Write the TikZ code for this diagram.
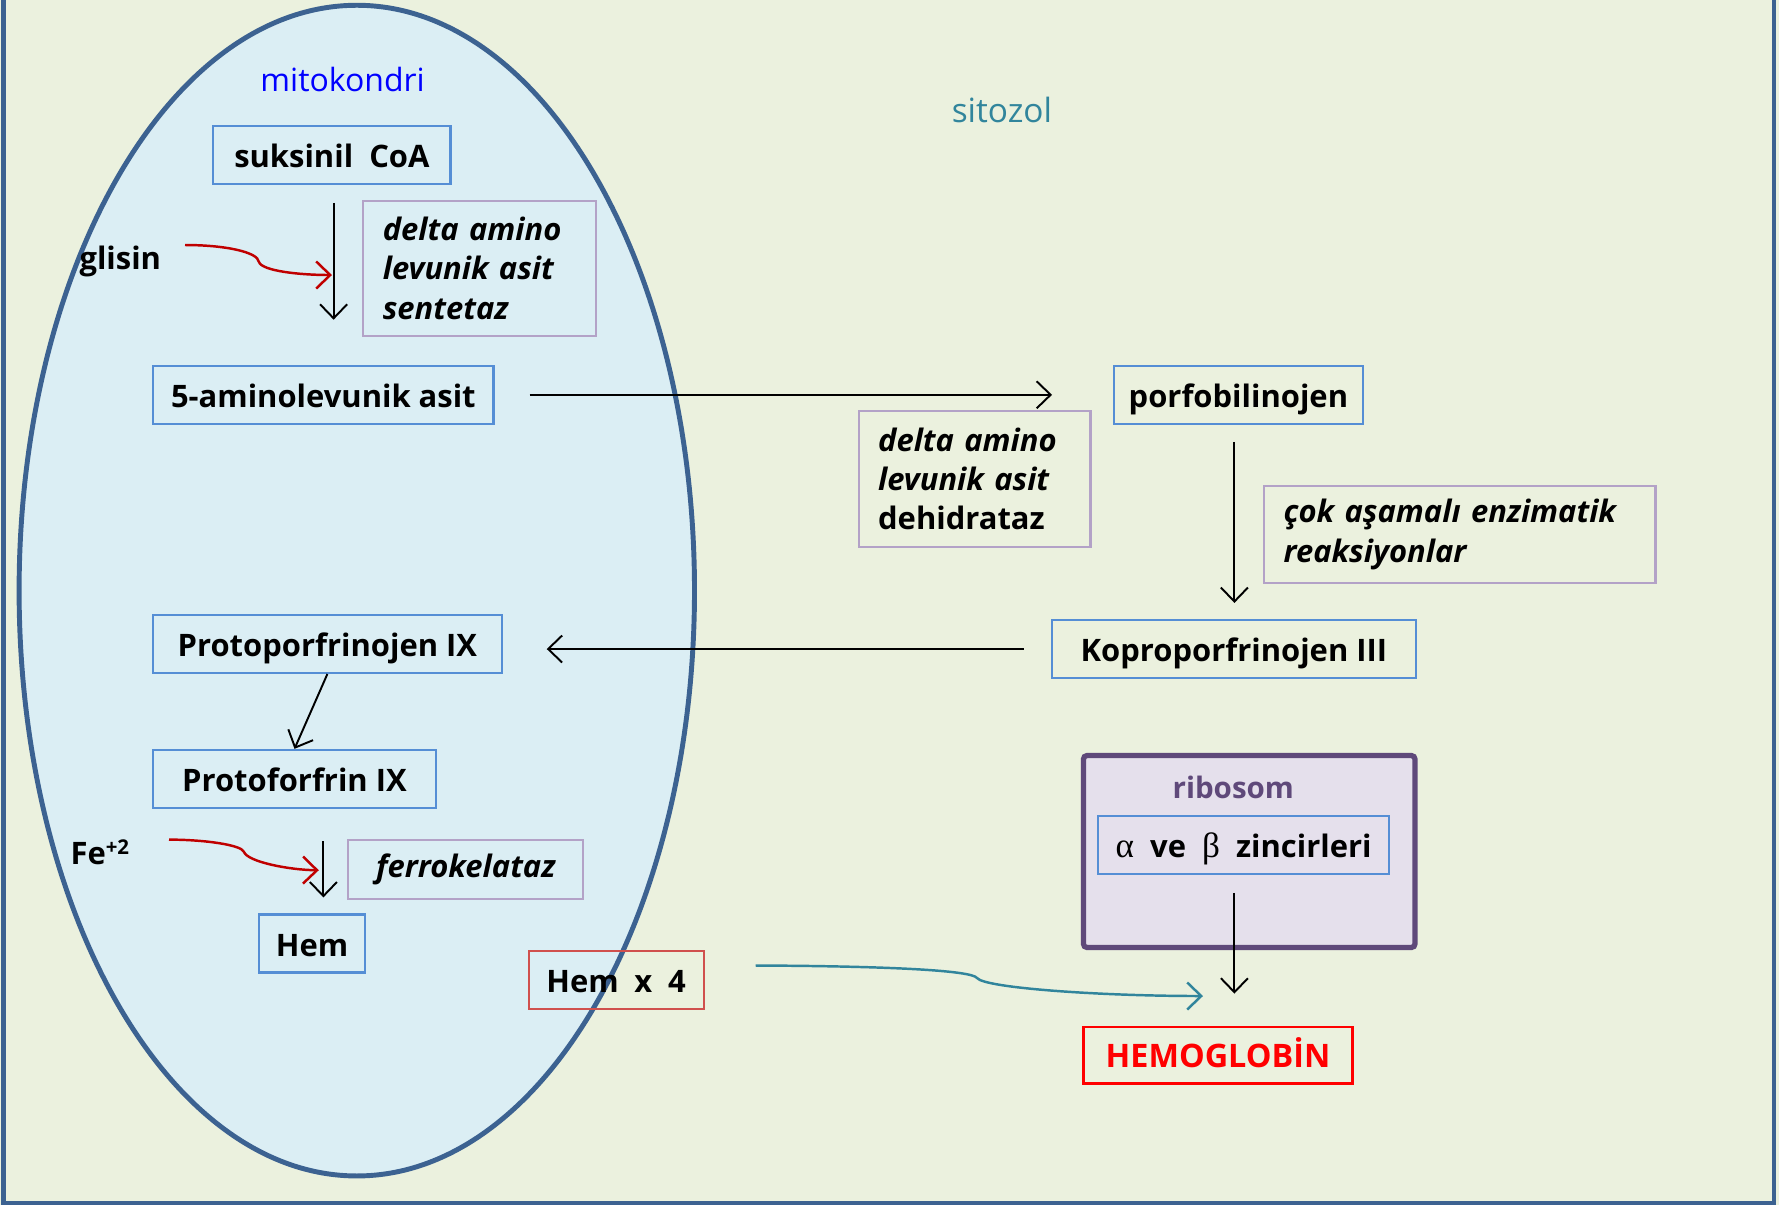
\documentclass[tikz,border=0pt]{standalone}
\usepackage{fontspec}
\setmainfont{Open Sans}
\newfontfamily\greekfont{Liberation Serif}
\usetikzlibrary{arrows.meta,shapes.geometric}
\definecolor{bgcol}{HTML}{EBF1DE}
\definecolor{mitofill}{HTML}{DBEEF4}
\definecolor{mitoline}{HTML}{3C6291}
\definecolor{boxblue}{HTML}{558ED5}
\definecolor{enzline}{HTML}{B3A2C7}
\definecolor{darkred}{HTML}{C00000}
\definecolor{tealc}{HTML}{31859C}
\definecolor{ribofill}{HTML}{E5E0EC}
\definecolor{riboline}{HTML}{5F497A}
\definecolor{hemred}{HTML}{D0504D}
\begin{document}
\begin{tikzpicture}[x=0.01cm,y=-0.01cm,
  every node/.style={font=\fontsize{8.8}{11}\selectfont\bfseries, inner sep=0pt},
  chem/.style={draw=boxblue, line width=0.6pt, minimum height=0.58cm, text height=0.72em, text depth=0pt},
  enz/.style={draw=enzline, line width=0.6pt, align=left, font=\fontsize{8.8}{11.2}\selectfont\bfseries\itshape},
  arr/.style={-{Straight Barb[length=0.14cm,width=0.27cm]}, line width=0.55pt, black},
  redarr/.style={-{Straight Barb[length=0.14cm,width=0.27cm]}, line width=0.7pt, darkred},
  tealarr/.style={-{Straight Barb[length=0.14cm,width=0.27cm]}, line width=0.7pt, tealc}]
\useasboundingbox (0,0) rectangle (1779,1205);
% background and page frame
\fill[bgcol] (0,0) rectangle (1779,1205);
\draw[mitoline, line width=1.3pt] (3.5,-20) -- (3.5,1203) -- (1774,1203) -- (1774,-20);
% mitochondrion
\node[ellipse, draw=mitoline, fill=mitofill, line width=1.4pt,
      minimum width=6.75cm, minimum height=11.7cm] (mito) at (356.8,590.6) {};
\node[font=\fontsize{9.1}{11}\selectfont, text=blue] (mitolbl) at (342.6,79.4) {mitokondri};
\node[font=\fontsize{9.5}{11}\selectfont, text=tealc] (sitolbl) at (1001.9,110) {sitozol};

% pathway boxes
\node[chem, minimum width=2.37cm] (suk) at (331.9,154.9) {suksinil\ \ CoA};
\node[enz, minimum width=2.327cm, minimum height=1.35cm, text width=1.93cm] (als) at (479.4,268.3)
  {delta amino\\levunik asit\\sentetaz};
\node[chem, minimum width=3.40cm] (ala) at (323.4,394.8) {5-aminolevunik asit};
\node[chem, minimum width=2.484cm] (pbg) at (1238.4,394.8) {porfobilinojen};
\node[enz, minimum width=2.315cm, minimum height=1.362cm, text width=1.93cm, font=\fontsize{8.8}{11.2}\selectfont\bfseries] (dhd) at (974.7,478.8)
  {\textit{delta amino}\\\textit{levunik asit}\\dehidrataz};
\node[enz, minimum width=3.914cm, minimum height=0.976cm, text width=3.52cm] (cok) at (1459.7,534.4)
  {çok aşamalı enzimatik\\reaksiyonlar};
\node[chem, minimum width=3.642cm] (kopro) at (1233.9,649) {Koproporfrinojen III};
\node[chem, minimum width=3.483cm] (protogen) at (327.4,643.9) {Protoporfrinojen IX};
\node[chem, minimum width=2.825cm] (protofor) at (294.5,778.9) {Protoforfrin IX};
\node[enz, minimum width=2.349cm, minimum height=0.59cm, align=center] (ferro) at (465.8,869.1) {ferrokelataz};
\node[chem, minimum width=1.066cm] (hem) at (312,943.5) {Hem};
\node[chem, draw=hemred, minimum width=1.748cm] (hem4) at (616.1,979.8) {Hem\hspace{0.25em} x\hspace{0.25em} 4};

% ribosome
\node[draw=riboline, fill=ribofill, line width=1.5pt, rounded corners=1pt,
      minimum width=3.313cm, minimum height=1.918cm] (ribo) at (1249.2,851.5) {};
\node[text=riboline, font=\fontsize{8.4}{11}\selectfont\bfseries] (ribolbl) at (1233.3,787.4) {ribosom};
\node[chem, minimum width=2.905cm] (chains) at (1243.6,844.7)
  {{\greekfont\mdseries\fontsize{10}{11}\selectfont α}\ \ ve\ \ {\greekfont\mdseries\fontsize{10}{11}\selectfont β}\ \ zincirleri};
\node[draw=red, line width=0.7pt, minimum width=2.689cm, minimum height=0.567cm,
      text height=0.72em, text depth=0pt,
      text=red, font=\fontsize{9.2}{11}\selectfont\bfseries] (hb) at (1218,1055.2) {HEMOGLOBİN};

% side substrates
\node (glisin) at (120.3,261) {glisin};
\node (fe) at (99.8,852) {Fe\raisebox{0.6ex}{\fontsize{5.8}{6}\selectfont +2}};

% reactions
\draw[arr, shorten <=0.18cm, shorten >=0.45cm] ([xshift=0.017cm]suk.south) -- ([xshift=0.017cm]suk.south |- ala.north);
\coordinate (gs) at (185,245);
\coordinate (ge) at (332,275);
\draw[redarr] (gs) .. controls (225,245) and (258,252) .. (259,262)
              .. controls (262,271) and (300,275) .. (ge);
\draw[arr, shorten <=0.35cm, shorten >=0.61cm] (ala.east) -- (pbg.west);
\draw[arr, shorten <=0.17cm, shorten >=0.16cm] ([xshift=-0.04cm]pbg.south) -- ([xshift=-0.04cm]pbg.south |- kopro.north);
\draw[arr, shorten <=0.27cm, shorten >=0.44cm] (kopro.west) -- (kopro.west -| protogen.east);
\draw[arr] (protogen.south) -- (protofor.north);
\draw[arr, shorten <=0.32cm, shorten >=0.16cm] ([xshift=0.114cm]hem.north |- protofor.south) -- ([xshift=0.114cm]hem.north);
\coordinate (fs) at (169,839.6);
\coordinate (fend) at (318.8,870.2);
\draw[redarr] (fs) .. controls (205,839.6) and (242,845) .. (244,852)
              .. controls (248,862) and (290,870) .. (fend);
\draw[arr, shorten <=0.18cm, shorten >=0.32cm] ([xshift=-0.092cm]chains.south) -- ([xshift=-0.092cm]chains.south |- hb.north);
\draw[tealarr] ([xshift=0.51cm,yshift=0.143cm]hem4.east) .. controls (880,966) and (972,970) .. (977,978)
              .. controls (985,988) and (1100,996) .. (1203,996);
\end{tikzpicture}
\end{document}
